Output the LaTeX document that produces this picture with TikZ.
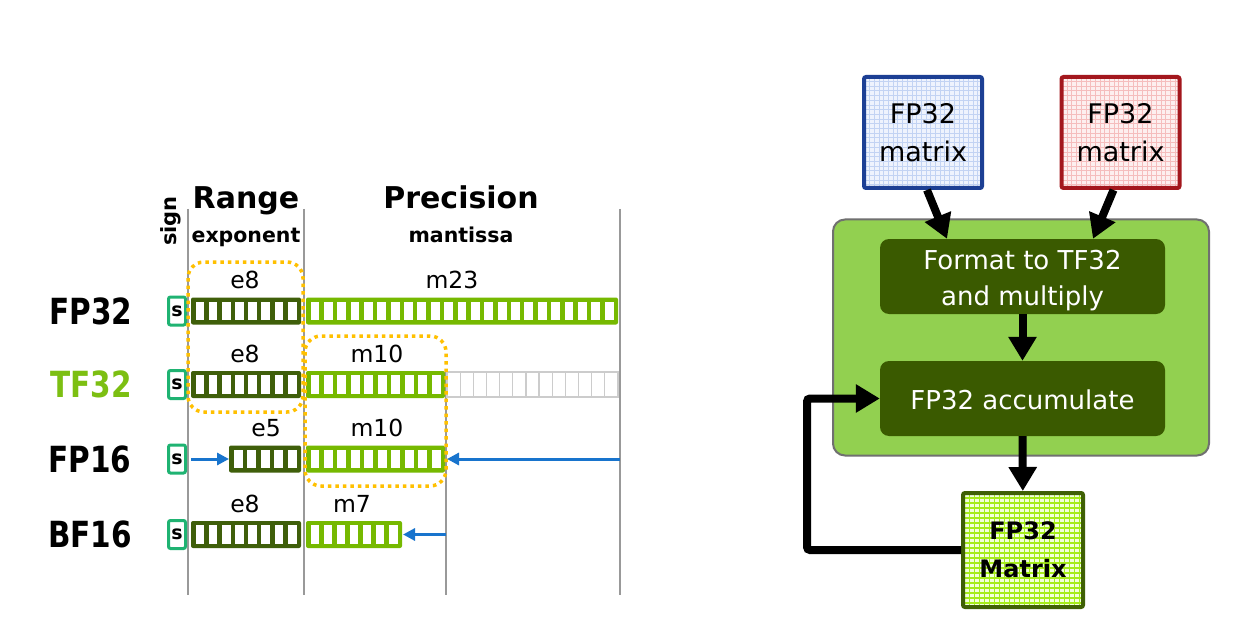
\documentclass[tikz,border=0pt]{standalone}
\usepackage{fontspec}
\usepackage{graphicx}
\setmainfont{DejaVu Sans}
\usetikzlibrary{arrows.meta}
\definecolor{expg}{HTML}{3F5F0A}
\definecolor{manG}{HTML}{76B900}
\definecolor{signg}{HTML}{1FB372}
\definecolor{tfg}{HTML}{7CBF12}
\definecolor{arrb}{HTML}{1874CD}
\definecolor{dotor}{HTML}{FFC000}
\definecolor{vline}{HTML}{999999}
\definecolor{bigg}{HTML}{92D050}
\definecolor{bigb}{HTML}{707070}
\definecolor{darkg}{HTML}{3A5A00}
\definecolor{blueo}{HTML}{1C3F94}
\definecolor{bluef}{HTML}{EEF3FD}
\definecolor{blueg}{HTML}{C2D3F3}
\definecolor{redo}{HTML}{A3171D}
\definecolor{redf}{HTML}{FDEFEF}
\definecolor{redg}{HTML}{F5BDBD}
\definecolor{mato}{HTML}{3F6005}
\definecolor{matf}{HTML}{F2FFDC}
\definecolor{matg}{HTML}{A6EC1A}
\newcommand\fsz[2]{\fontsize{#1}{#2}\selectfont}
% #1 x0, #2 x1, #3 cells, #4 y centre, #5 colour
\newcommand\bitfield[5]{%
  \fill[#5, rounded corners=2pt] (#1,{#4-13.5}) rectangle (#2,{#4+13.5});
  \pgfmathsetmacro\bfpitch{(#2-#1-4.5)/#3}
  \foreach \i in {1,...,#3}{%
    \fill[white] ({#1+4.5+(\i-1)*\bfpitch},{#4-9.3}) rectangle ({#1+\i*\bfpitch},{#4+9.3});}
}
\begin{document}
\begin{tikzpicture}[x=1pt,y=-1pt,
  lbl/.style={font=\bfseries\fsz{36}{40}, inner sep=0},
  hdr/.style={font=\bfseries\fsz{30}{34}, inner sep=0, anchor=base},
  sub/.style={font=\bfseries\fsz{20.5}{24}, inner sep=0, anchor=base},
  bits/.style={font=\fsz{23.5}{26}, inner sep=0},
  signbox/.style={draw=signg, line width=3pt, fill=white, minimum width=17pt, minimum height=28pt, inner sep=0, rounded corners=2pt, font=\bfseries\fsz{19}{20}},
  vl/.style={draw=vline, line width=1.2pt},
  dots/.style={draw=dotor, line width=3.5pt, dash pattern=on 3.5pt off 4pt, rounded corners=16pt},
  barr/.style={draw=arrb, line width=3pt, -{Triangle[width=12pt,length=12pt]}},
  harr/.style={draw=black, line width=8pt, -{Triangle[width=27pt,length=24pt]}},
  srcbox/.style={minimum width=118pt, minimum height=111pt, line width=4pt, rounded corners=2pt, inner sep=0, align=center, font=\fsz{27}{38}},
  procbox/.style={fill=darkg, rounded corners=9pt, minimum width=285pt, minimum height=75pt, inner sep=0},
  proctext/.style={text=white, align=center, inner sep=0, font=\fsz{26}{36}},
  bigbox/.style={fill=bigg, draw=bigb, line width=2pt, rounded corners=12pt, minimum width=376pt, minimum height=236pt}
]
\useasboundingbox (0,0) rectangle (1254,623);
\fill[white] (0,0) rectangle (1254,623);

% ---------- left: number formats ----------
\draw[vl] (188,209) -- (188,595);
\draw[vl] (304,209) -- (304,595);
\draw[vl] (446,370) -- (446,595);
\draw[vl] (620,209) -- (620,595);

\node[font=\bfseries\fsz{21}{22}, inner sep=0, rotate=90] (sign) at (171,221) {sign};
\node[hdr] (range) at (246,208) {Range};
\node[hdr] (prec) at (461,208) {Precision};
\node[sub] (expo) at (246,243) {exponent};
\node[sub] (mant) at (461,243) {mantissa};

\node[lbl] (lfp32) at (91,311) {\scalebox{0.82}[1]{FP32}};
\node[lbl, text=tfg] (ltf32) at (91,384.5) {\scalebox{0.82}[1]{TF32}};
\node[lbl] (lfp16) at (90,459) {\scalebox{0.82}[1]{FP16}};
\node[lbl] (lbf16) at (90,534.5) {\scalebox{0.82}[1]{BF16}};

% FP32
\bitfield{191}{301}{8}{311}{expg}
\bitfield{306}{618}{23}{311}{manG}
% TF32
\bitfield{191}{301}{8}{384.5}{expg}
\bitfield{306}{445}{10}{384.5}{manG}
\foreach \i in {0,...,12}{\draw[black!20, line width=1.2pt] ({447+\i*13.15},372) rectangle ({447+(\i+1)*13.15},397);}
% FP16
\bitfield{229}{301}{5}{459}{expg}
\bitfield{306}{445}{10}{459}{manG}
% BF16
\bitfield{191}{301}{8}{534.5}{expg}
\bitfield{306}{402}{7}{534.5}{manG}

\node[signbox] (s1) at (177,311) {s};
\node[signbox] (s2) at (177,384.5) {s};
\node[signbox] (s3) at (177,459) {s};
\node[signbox] (s4) at (177,534.5) {s};

\node[bits] (t1) at (245,280) {e8};
\node[bits] (t2) at (452,280) {m23};
\node[bits] (t3) at (245,353.5) {e8};
\node[bits] (t4) at (377,353.5) {m10};
\node[bits] (t5) at (266,428) {e5};
\node[bits] (t6) at (377,428) {m10};
\node[bits] (t7) at (245,503.5) {e8};
\node[bits] (t8) at (352,503.5) {m7};

\draw[dots] (188,262) rectangle (303,412);
\draw[dots] (305,336) rectangle (446,486);

\coordinate (f16a) at (191,459);
\coordinate (f16b) at (229,459);
\coordinate (f16c) at (620,459);
\coordinate (f16d) at (447,459);
\coordinate (bf16a) at (446,534.5);
\coordinate (bf16b) at (403,534.5);
\draw[barr] (f16a) -- (f16b);
\draw[barr] (f16c) -- (f16d);
\draw[barr] (bf16a) -- (bf16b);

% ---------- right: tensor core flow ----------
\node[bigbox] (big) at (1021,337.5) {};
\node[procbox, label={[proctext, yshift=-4pt]center:{Format to TF32\\and multiply}}] (fmt) at (1022.5,276.5) {};
\node[procbox, label={[proctext, yshift=-1pt]center:{FP32 accumulate}}] (acc) at (1022.5,398.5) {};

\node[srcbox, draw=blueo, fill=bluef,
  path picture={\draw[blueg, line width=0.8pt, step=4.7pt] (path picture bounding box.south west) grid (path picture bounding box.north east);}]
  (A) at (923,132.5) {FP32\\matrix};
\node[srcbox, draw=redo, fill=redf,
  path picture={\draw[redg, line width=0.8pt, step=4.7pt] (path picture bounding box.south west) grid (path picture bounding box.north east);}]
  (B) at (1120.5,132.5) {FP32\\matrix};
\node[srcbox, draw=mato, fill=matf, minimum width=120pt, minimum height=114pt, font=\bfseries\fsz{24}{38},
  path picture={\draw[matg, line width=1.6pt, step=5pt] (path picture bounding box.south west) grid (path picture bounding box.north east);}]
  (C) at (1023,550) {FP32\\Matrix};

\draw[harr] ([xshift=4pt]A.south) -- ([xshift=-75.5pt]fmt.north);
\draw[harr] ([xshift=-7pt]B.south) -- ([xshift=70.5pt]fmt.north);
\draw[harr] (fmt) -- (acc);
\draw[harr] (acc) -- (C);
\draw[harr, rounded corners=3pt] (C.west) -- ++(-154,0) |- (acc.west);
\end{tikzpicture}
\end{document}
